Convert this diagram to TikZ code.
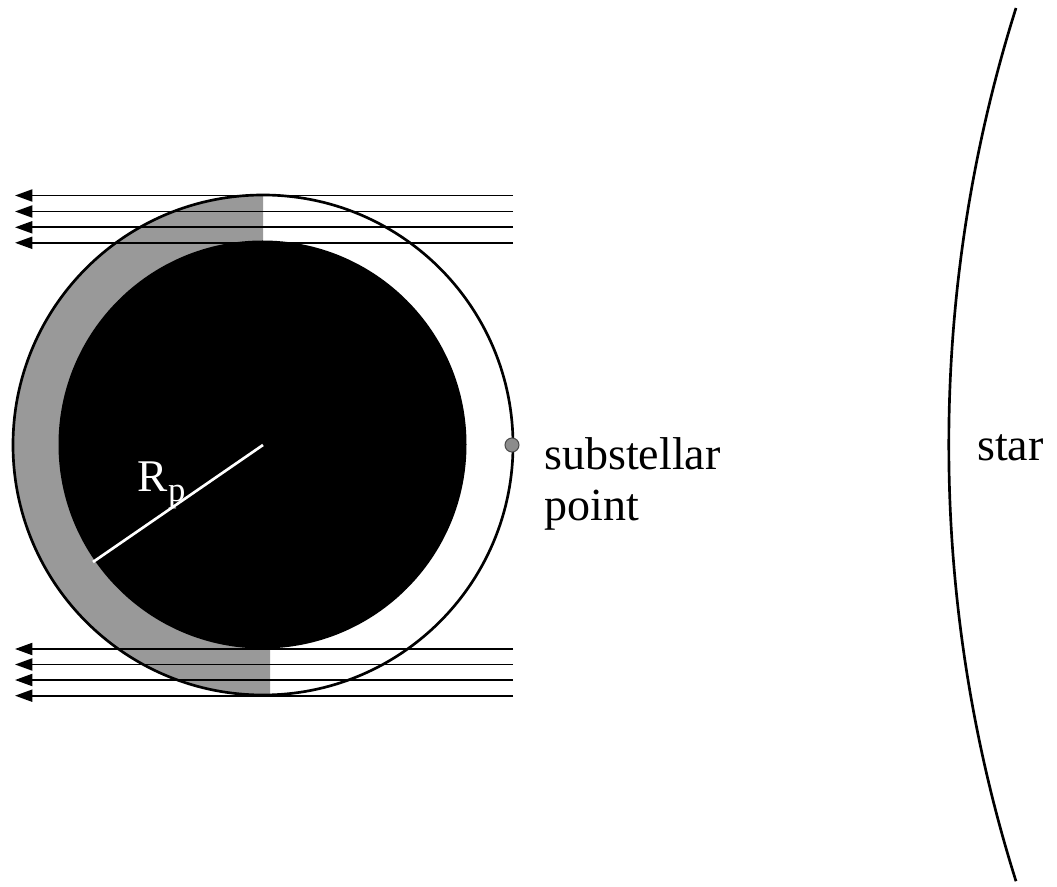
\documentclass[tikz,border=0pt]{standalone}
\usepackage{fontspec}
\setmainfont{Liberation Serif}
\usetikzlibrary{arrows.meta}
\definecolor{shadegray}{gray}{0.6}
\definecolor{dotgray}{gray}{0.55}
\tikzset{
  ray/.style={line width=1.4pt,-{Triangle[length=13pt,width=9pt]}},
  lbl/.style={font=\fontsize{34.5}{40}\selectfont,inner sep=0pt,anchor=base west},
}
\begin{document}
\begin{tikzpicture}[x=0.75pt,y=-0.75pt]
\useasboundingbox (0,0) rectangle (1057,887);
\coordinate (C) at (263,445);
% gray crescent
\begin{scope}
  \clip (C) circle[radius=187.5pt];
  \fill[shadegray] (0,180) -- (263,180) -- (263,445) -- (270,445) -- (270,710) -- (0,710) -- cycle;
\end{scope}
% black disc
\fill[black] (262.5,444.5) circle[radius=153pt];
% outer circle
\draw[line width=2pt] (C) circle[radius=187.5pt];
% radius line
\coordinate (Rend) at (93,562);
\draw[white,line width=2pt] (C) -- (Rend);
\node[text=white,font=\fontsize{34}{38}\selectfont,inner sep=0pt,anchor=base west] (rp) at (137,492)
  {R\kern0.5pt\raisebox{-7.5pt}{\fontsize{26}{30}\selectfont p}};
% rays
\foreach \i/\y in {1/195.5,2/211.5,3/227.3,4/242.8,5/649,6/664.5,7/680,8/695.7}{
  \coordinate (s\i) at (513,\y);
  \coordinate (e\i) at (15,\y);
  \draw[ray] (s\i) -- (e\i);
}
% substellar point
\node[circle,draw=black!70,fill=dotgray,line width=0.8pt,minimum size=10.5pt,inner sep=0pt] (sp) at (512,445) {};
\node[lbl] (sub1) at (544,470) {substellar};
\node[lbl] (sub2) at (544,521) {point};
% star
\coordinate (starTop) at (1016,8);
\draw[line width=2pt] (starTop) arc[start angle=162.5, end angle=197.5, radius=1089pt];
\node[lbl] (star) at (977,461) {star};
\end{tikzpicture}
\end{document}
